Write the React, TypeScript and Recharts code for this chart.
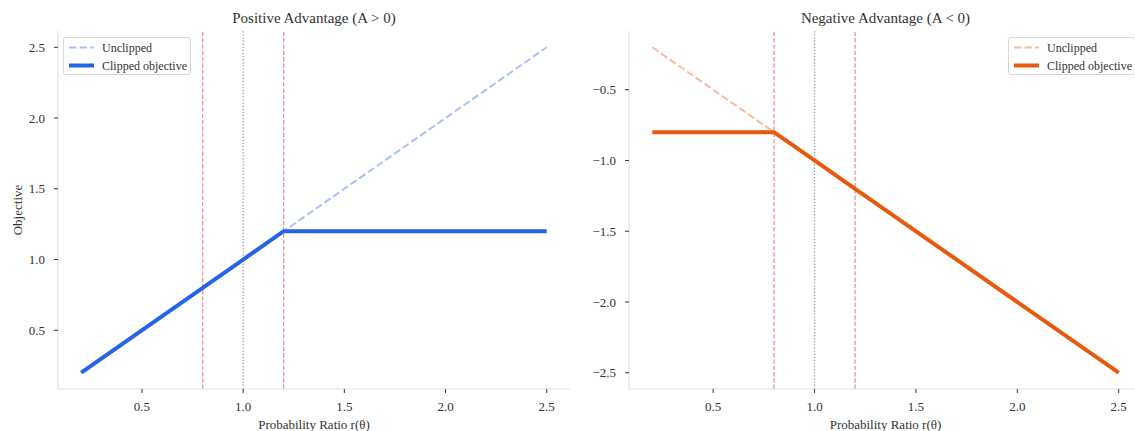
import React from "react";
import { LineChart, Line, XAxis, YAxis, ReferenceLine } from "recharts";

// probability ratio knots (r)
const ratios = [0.2, 0.8, 1.0, 1.2, 2.5];
// A > 0
const posUnclipped = [0.2, 0.8, 1.0, 1.2, 2.5];
const posClipped = [0.2, 0.8, 1.0, 1.2, 1.2];
// A < 0
const negUnclipped = [-0.2, -0.8, -1.0, -1.2, -2.5];
const negClipped = [-0.8, -0.8, -1.0, -1.2, -2.5];

const clipBounds = [0.8, 1.2];
const refRatio = 1.0;

const xTicks = [0.5, 1.0, 1.5, 2.0, 2.5];
const posTicks = [0.5, 1.0, 1.5, 2.0, 2.5];
const negTicks = [-2.5, -2.0, -1.5, -1.0, -0.5];

const FONT = '"Liberation Serif", "Times New Roman", serif';
const TEXT = "#333";
const SPINE = "#dde3ea";

const posData = ratios.map((r, i) => ({ r, unclipped: posUnclipped[i], clipped: posClipped[i] }));
const negData = ratios.map((r, i) => ({ r, unclipped: negUnclipped[i], clipped: negClipped[i] }));

const fmt = (v: number) => v.toFixed(1).replace("-", "\u2212");

const LegendBox = ({ left, top, light, dark }: any) => (
  <div
    style={{
      position: "absolute",
      left,
      top,
      width: 128,
      height: 38,
      border: "1px solid #d6d6d6",
      borderRadius: 3,
      background: "rgba(255,255,255,0.8)",
      fontFamily: FONT,
      fontSize: 12,
      color: TEXT,
      boxSizing: "border-box",
    }}
  >
    <svg width={30} height={38} style={{ position: "absolute", left: 4, top: 0 }}>
      <line x1={1} x2={26} y1={9.5} y2={9.5} stroke={light} strokeWidth={2} strokeDasharray="7.4 3.2" />
      <line x1={1} x2={26} y1={27.5} y2={27.5} stroke={dark} strokeWidth={4} />
    </svg>
    <div style={{ position: "absolute", left: 38, top: 1, lineHeight: "18px" }}>Unclipped</div>
    <div style={{ position: "absolute", left: 38, top: 19, lineHeight: "18px" }}>Clipped objective</div>
  </div>
);

const Title = ({ left, width, text }: any) => (
  <div
    style={{
      position: "absolute",
      left,
      width,
      top: 10,
      textAlign: "center",
      fontFamily: FONT,
      fontSize: 15,
      color: TEXT,
    }}
  >
    {text}
  </div>
);

const Panel = ({ data, ticks, domain, light, dark, width, yWidth, showYLabel }: any) => (
  <LineChart width={width} height={431} data={data} margin={{ top: 31, right: 5, bottom: 0, left: 0 }} style={{ fontFamily: FONT }}>
    <XAxis
      dataKey="r"
      type="number"
      domain={[0.085, 2.615]}
      ticks={xTicks}
      tickFormatter={fmt}
      height={42}
      tickSize={4}
      tickMargin={9}
      axisLine={{ stroke: SPINE, strokeWidth: 1.2 }}
      tickLine={{ stroke: TEXT }}
      tick={{ fill: TEXT, fontSize: 13, fontFamily: FONT }}
      label={{ value: "Probability Ratio r(\u03b8)", position: "insideBottom", offset: 2, fill: TEXT, fontSize: 13, fontFamily: FONT }}
    />
    <YAxis
      type="number"
      domain={domain}
      ticks={ticks}
      tickFormatter={fmt}
      width={yWidth}
      tickSize={4}
      tickMargin={9}
      axisLine={{ stroke: SPINE, strokeWidth: 1.2 }}
      tickLine={{ stroke: TEXT }}
      tick={{ fill: TEXT, fontSize: 13, fontFamily: FONT }}
      label={
        showYLabel
          ? {
              content: ({ viewBox }: any) => {
                const cy = viewBox.y + viewBox.height / 2;
                return (
                  <text x={17} y={cy} transform={`rotate(-90 17 ${cy})`} textAnchor="middle" dominantBaseline="central" fill={TEXT} fontSize={13} fontFamily={FONT}>
                    Objective
                  </text>
                );
              },
            }
          : undefined
      }
    />
    {clipBounds.map((b) => (
      <ReferenceLine key={b} x={b} stroke="#ee8a8a" strokeWidth={1.2} strokeDasharray="4.4 1.9" />
    ))}
    <ReferenceLine x={refRatio} stroke="#8f9bb5" strokeWidth={1.3} strokeDasharray="1.3 1.8" />
    <Line dataKey="unclipped" type="linear" stroke={light} strokeWidth={2} strokeDasharray="7.4 3.2" dot={false} activeDot={false} isAnimationActive={false} />
    <Line dataKey="clipped" type="linear" stroke={dark} strokeWidth={4} dot={false} activeDot={false} isAnimationActive={false} />
  </LineChart>
);

export default function App() {
  return (
    <div style={{ position: "fixed", left: 0, top: 0, width: 1135, height: 431, overflow: "hidden", background: "#fff", fontFamily: FONT }}>
      <div style={{ position: "absolute", left: 0, top: 0 }}>
        <Panel data={posData} ticks={posTicks} domain={[0.085, 2.615]} light="#a9c1f7" dark="#2563eb" width={575} yWidth={58} showYLabel />
      </div>
      <div style={{ position: "absolute", left: 570, top: 0 }}>
        <Panel data={negData} ticks={negTicks} domain={[-2.615, -0.085]} light="#f5bb9b" dark="#ea580c" width={577} yWidth={59} showYLabel={false} />
      </div>
      <Title left={58} width={512} text="Positive Advantage (A > 0)" />
      <Title left={629} width={513} text="Negative Advantage (A < 0)" />
      <LegendBox left={63} top={37} light="#a9c1f7" dark="#2563eb" />
      <LegendBox left={1008} top={37} light="#f5bb9b" dark="#ea580c" />
    </div>
  );
}
